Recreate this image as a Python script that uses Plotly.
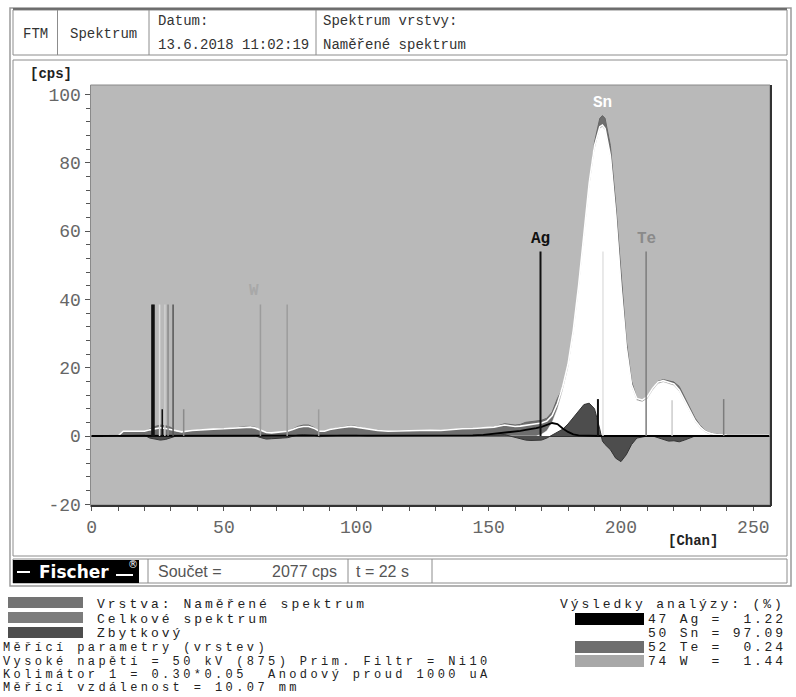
import json
import plotly.graph_objects as go

# ---------------- data ----------------
chan = [0, 10, 12, 16, 20, 22, 24, 26, 28, 30,
        32, 34, 38, 42, 46, 50, 54, 58, 60, 62,
        64, 66, 68, 70, 72, 74, 76, 78, 80, 82,
        84, 86, 88, 90, 94, 98, 100, 104, 108, 112,
        116, 120, 124, 128, 132, 136, 140, 144, 148, 152,
        156, 160, 162, 164, 166, 168, 170, 172, 174, 176,
        178, 180, 182, 184, 186, 188, 190, 192, 193, 194,
        196, 198, 200, 202, 204, 206, 208, 210, 212, 214,
        216, 218, 220, 222, 224, 226, 228, 230, 232, 234,
        236, 240, 250, 256]

measured = [0, 0, 1.2, 1.3, 1.2, 2.0, 2.8, 3.2, 3.0, 2.5,
            1.2, 1.0, 1.5, 1.8, 1.8, 2.0, 2.3, 2.8, 2.8, 2.5,
            1.5, 0.8, 0.8, 1.0, 1.0, 1.2, 2.0, 2.8, 3.2, 3.2,
            2.5, 1.2, 1.2, 1.8, 2.5, 3.0, 2.8, 2.0, 1.5, 1.3,
            1.5, 1.4, 1.6, 1.6, 1.5, 1.8, 2.0, 2.0, 2.2, 2.6,
            3.6, 3.2, 3.4, 4.0, 4.2, 4.4, 4.6, 5.2, 7.0, 11.0,
            14, 20, 29, 42, 57, 73, 86, 93, 93.8, 93,
            85, 68, 47, 28, 16, 11, 10.2, 11, 14, 16,
            16.5, 16.2, 15.8, 14.5, 11.5, 8.5, 5.2, 3, 1.5, 0.8,
            0.5, 0.3, 0.2, 0.2]

total_fit = [0, 0, 1.4, 1.5, 1.4, 1.8, 2.2, 2.4, 2.2, 1.9,
             1.4, 1.2, 1.6, 1.9, 2.0, 2.1, 2.3, 2.6, 2.6, 2.3,
             1.6, 1.0, 0.9, 1.1, 1.2, 1.4, 1.9, 2.5, 2.8, 2.8,
             2.3, 1.4, 1.4, 1.9, 2.4, 2.8, 2.6, 2.0, 1.6, 1.4,
             1.5, 1.5, 1.6, 1.7, 1.6, 1.9, 2.1, 2.2, 2.3, 2.6,
             3.2, 2.8, 2.9, 3.2, 3.4, 3.6, 3.8, 4.4, 6.0, 9.5,
             14.5, 21, 31, 44, 59, 74, 85, 90.5, 91, 90,
             82, 65, 44, 26, 15, 11, 10.5, 11.5, 14, 15.8,
             16.2, 15.8, 15.2, 13.5, 10.5, 7.5, 4.5, 2.6, 1.3, 0.7,
             0.4, 0.3, 0.2, 0.2]

sn_component = [0, 0, 0, 0, 0, 0, 0, 0, 0, 0,
                0, 0, 0, 0, 0, 0, 0, 0, 0, 0,
                0, 0, 0, 0, 0, 0, 0, 0, 0, 0,
                0, 0, 0, 0, 0, 0, 0, 0, 0, 0,
                0, 0, 0, 0, 0, 0, 0, 0, 0, 0,
                0, 0, 0, 0, 0, 0, 0.5, 1.5, 4.0, 8.0,
                13.5, 20, 30, 43, 58, 73, 84, 90, 90.5, 89.5,
                81.5, 64.5, 43.5, 25.5, 14.5, 10.5, 10, 11, 13.5, 15.3,
                15.8, 15.4, 14.8, 13, 10, 7, 4.2, 2.3, 1.0, 0.4,
                0.2, 0, 0, 0]

residual = [0, 0, 0.2, 0.2, 0.2, -0.6, -1.0, -1.2, -1.0, -0.6,
            0, 0, 0, 0, 0, 0, 0, 0.2, 0.2, 0,
            -0.5, -0.9, -0.8, -0.8, -0.6, -0.5, 0, 0.3, 0.4, 0.4,
            0.2, -0.2, -0.2, 0, 0.2, 0.3, 0.2, 0, 0, 0,
            0, 0, 0, 0, 0, 0, 0, 0, 0, 0.2,
            0.4, -0.5, -0.8, -1.2, -1.3, -1.3, -1.2, -0.6, 0.3, 1.0,
            2.0, 3.5, 5.5, 7.5, 9.2, 9.6, 8.0, 2.0, -1.5, -2.5,
            -4.0, -6.5, -7.5, -5.5, -2.5, -0.6, -0.2, 0, 0, -0.5,
            -1.2, -1.5, -1.4, -1.7, -1.2, -0.5, 0, 0, 0, 0,
            0, 0, 0, 0]

ag_component = [0, 0, 0, 0, 0, 0, 0, 0, 0, 0,
                0, 0, 0, 0, 0, 0, 0, 0, 0, 0,
                0, 0, 0, 0, 0, 0, 0, 0, 0, 0,
                0, 0, 0, 0, 0, 0, 0, 0, 0, 0,
                0, 0, 0, 0, 0, 0, 0.1, 0.2, 0.3, 0.6,
                0.9, 1.3, 1.5, 1.8, 2.0, 2.3, 2.7, 3.2, 3.8, 3.5,
                2.2, 1.2, 0.5, 0.2, 0.1, 0, 0, 0, 0, 0,
                0, 0, 0, 0, 0, 0, 0, 0, 0, 0,
                0, 0, 0, 0, 0, 0, 0, 0, 0, 0,
                0, 0, 0, 0]

# element line markers (channel, height in cps)
line_chan = [22.9, 23.5, 25.7, 26.7, 27.7, 28.9, 30.8, 34.8, 63.8, 73.9,
             85.8, 169.6, 191.3, 193.2, 209.5, 219.3, 238.8]
line_cps = [38.5, 38.5, 38.5, 7.8, 38.5, 38.5, 38.5, 7.8, 38.5, 38.5,
            7.8, 54.0, 10.8, 54.0, 54.0, 10.5, 10.8]

peak_labels = ["Ag", "Sn", "Te", "W"]
peak_label_chan = [169.6, 193.2, 209.5, 61.3]
peak_label_cps = [57.6, 97.6, 57.6, 42.4]

x_ticks = [0, 50, 100, 150, 200, 250]
y_ticks = [-20, 0, 20, 40, 60, 80, 100]

legend_items = ["Vrstva: Naměřené spektrum", "Celkové spektrum", "Zbytkový"]
param_lines = ["Měřící parametry (vrstev)",
               "Vysoké napětí = 50 kV (875) Prim. Filtr = Ni10",
               "Kolimátor 1 = 0.30*0.05  Anodový proud 1000 uA",
               "Měřící vzdálenost = 10.07 mm"]
result_elements = ["47 Ag", "50 Sn", "52 Te", "74 W "]
result_values = ["1.22", "97.09", "0.24", "1.44"]

# ---------------- styles ----------------
W, H = 796, 697
def px(x):
    return x / W
def py(y):
    return 1 - y / H

MONO = "Liberation Mono, Courier New, monospace"
SANS = "Liberation Sans, Arial, sans-serif"
line_colors = ["#111111", "#111111", "#dcdcdc", "#111111", "#d0d0d0", "#8a8a8a",
               "#555555", "#8a8a8a", "#9c9c9c", "#9c9c9c", "#9c9c9c", "#111111",
               "#111111", "#e2e2e2", "#7c7c7c", "#cccccc", "#7c7c7c"]
line_widths = [2, 2, 1.5, 1.5, 1.5, 1.5, 1.5, 1.5, 1.5, 1.5, 1.5, 2, 2, 1.5, 1.5, 1.5, 1.5]
peak_label_colors = ["#111111", "#ffffff", "#8a8a8a", "#a8a8a8"]
legend_colors = ["#737373", "#7c7c7c", "#4d4d4d"]
result_colors = ["#000000", "#ffffff", "#6e6e6e", "#a8a8a8"]

fig = go.Figure()

fig.add_trace(go.Scatter(x=chan, y=measured, mode="lines", fill="tozeroy",
                         fillcolor="#6e6e6e", line=dict(color="#666666", width=1),
                         hoverinfo="skip", showlegend=False))
fig.add_trace(go.Scatter(x=chan, y=sn_component, mode="lines", fill="tozeroy",
                         fillcolor="#ffffff", line=dict(color="#ffffff", width=0.5),
                         hoverinfo="skip", showlegend=False))
fig.add_trace(go.Scatter(x=chan, y=total_fit, mode="lines",
                         line=dict(color="#ffffff", width=1.6),
                         hoverinfo="skip", showlegend=False))
fig.add_trace(go.Scatter(x=chan, y=residual, mode="lines", fill="tozeroy",
                         fillcolor="#4d4d4d", line=dict(color="#333333", width=1),
                         hoverinfo="skip", showlegend=False))
fig.add_trace(go.Scatter(x=chan, y=ag_component, mode="lines",
                         line=dict(color="#000000", width=1.8),
                         hoverinfo="skip", showlegend=False))

for c, h, col, lw in zip(line_chan, line_cps, line_colors, line_widths):
    fig.add_trace(go.Scatter(x=[c, c], y=[0, h], mode="lines",
                             line=dict(color=col, width=lw),
                             hoverinfo="skip", showlegend=False))

annotations = []
spaced = {}
for lab, c, v, col in zip(peak_labels, peak_label_chan, peak_label_cps, peak_label_colors):
    annotations.append(dict(x=c, y=v, xref="x", yref="y", text="<b>%s</b>" % lab,
                            showarrow=False, font=dict(family=MONO, size=16, color=col)))

def ptext(x, y, text, size=14, color="#333333", family=MONO, anchor="left", bold=False,
          spacing=None):
    t = "<b>%s</b>" % text if bold else text
    if spacing is not None:
        spaced[len(annotations)] = spacing
    annotations.append(dict(x=px(x), y=py(y), xref="paper", yref="paper", text=t,
                            showarrow=False, xanchor=anchor, yanchor="middle",
                            align=anchor if anchor != "center" else "center",
                            font=dict(family=family, size=size, color=color)))

# header texts
ptext(35, 34, "FTM", anchor="center")
ptext(103, 34, "Spektrum", anchor="center")
ptext(156, 21, "Datum:")
ptext(156, 45, "13.6.2018 11:02:19")
ptext(321, 21, "Spektrum vrstvy:")
ptext(321, 45, "Naměřené spektrum")

# axis unit labels
ptext(51, 74, "[cps]", size=14, color="#222222", anchor="center", bold=True)
ptext(693, 541, "[Chan]", size=14, color="#222222", anchor="center", bold=True)

# bottom status row
ptext(156, 571, "Součet =", size=16, color="#555555", family=SANS)
ptext(339, 571, "2077 cps", size=16, color="#555555", family=SANS, anchor="right")
ptext(354, 571, "t = 22 s", size=16, color="#555555", family=SANS)
ptext(74, 572, "<b>Fischer</b>", size=17, color="#ffffff", family="DejaVu Sans", anchor="center")
ptext(133, 564, "®", size=10, color="#ffffff", family="DejaVu Sans", anchor="center")

# legend block
leg_y = [604, 619, 633]
for txt, yy in zip(legend_items, leg_y):
    ptext(95, yy, txt, size=13, color="#222222", spacing=3)
par_y = [648, 662, 675, 688]
for txt, yy in zip(param_lines, par_y):
    ptext(1, yy, txt, size=12, color="#222222", spacing=3.4)

# results
ptext(558, 604, "Výsledky analýzy: (%)", size=13, color="#222222", spacing=2.9)
res_y = [619, 633, 647, 661]
for el, val, yy in zip(result_elements, result_values, res_y):
    ptext(646, yy, "%s = %5s" % (el, val), size=13, color="#222222", spacing=2.8)

shapes = []
def rect(x0, y0, x1, y1, color="#8c8c8c", width=1, fill=None, layer="above"):
    d = dict(type="rect", xref="paper", yref="paper", x0=px(x0), x1=px(x1),
             y0=py(y1), y1=py(y0), line=dict(color=color, width=width), layer=layer)
    if fill:
        d["fillcolor"] = fill
    shapes.append(d)
def hline(x0, x1, y, color="#8c8c8c", width=1):
    shapes.append(dict(type="line", xref="paper", yref="paper", x0=px(x0), x1=px(x1),
                       y0=py(y), y1=py(y), line=dict(color=color, width=width)))
def vline(x, y0, y1, color="#8c8c8c", width=1):
    shapes.append(dict(type="line", xref="paper", yref="paper", x0=px(x), x1=px(x),
                       y0=py(y0), y1=py(y1), line=dict(color=color, width=width)))

# outer frame and cells
rect(10, 8, 791, 586, color="#9a9a9a", width=1.5)
rect(13, 10, 787, 55, color="#8c8c8c", width=1)
hline(13, 787, 9, color="#555555", width=1.5)
vline(57.5, 10, 55)
vline(149, 10, 55)
vline(316, 10, 55)
rect(13, 60, 787, 556, color="#8c8c8c", width=1)
rect(13, 559, 787, 583, color="#8c8c8c", width=1)
rect(13, 560, 139, 583, color="#000000", width=0, fill="#000000")
vline(148, 559, 583)
vline(348, 559, 583)
vline(432, 559, 583)
# logo strokes
hline(17, 30, 572, color="#ffffff", width=2)
hline(116, 133, 575, color="#ffffff", width=2)

# plot area border
rect(90.5, 85, 770, 505, color="#8a8a8a", width=1)
vline(771, 85, 506, color="#333333", width=2)
hline(90.5, 771, 506, color="#333333", width=2)

# legend swatches
sw_y = [(597, 608), (612, 623), (627, 638)]
for col, (a, b) in zip(legend_colors, sw_y):
    rect(8, a, 83, b, color=col, width=0, fill=col)
rs_y = [(613, 625), (627, 639), (641, 653), (655, 667)]
for col, (a, b) in zip(result_colors, rs_y):
    rect(575, a, 644, b, color=col, width=0, fill=col)

fig.update_layout(
    width=W, height=H, autosize=False,
    margin=dict(l=0, r=0, t=0, b=0),
    paper_bgcolor="#ffffff", plot_bgcolor="#b9b9b9",
    annotations=annotations, shapes=shapes,
    xaxis=dict(domain=[px(90.5), px(770)], range=[-0.4, 256.3],
               tickmode="array", tickvals=x_ticks, ticktext=[str(v) for v in x_ticks],
               ticks="outside", ticklen=5, tickcolor="#555555", tickwidth=1,
               minor=dict(tickmode="linear", tick0=0, dtick=10, ticks="outside",
                          ticklen=5, tickcolor="#555555"),
               showgrid=False, zeroline=False, showline=False, automargin=False,
               tickfont=dict(family=MONO, size=18, color="#666666")),
    yaxis=dict(domain=[py(505), py(85)], range=[-20.2, 102.75],
               tickmode="array", tickvals=y_ticks, ticktext=[str(v) for v in y_ticks],
               ticks="outside", ticklen=5, tickcolor="#555555", tickwidth=1,
               minor=dict(tickmode="linear", tick0=0, dtick=4, ticks="outside",
                          ticklen=4, tickcolor="#555555"),
               showgrid=False, zeroline=True, zerolinecolor="#333333", zerolinewidth=1,
               showline=False, automargin=False,
               tickfont=dict(family=MONO, size=18, color="#666666")),
)

post = """
document.body.style.margin='0';document.body.style.padding='0';
var gd = document.getElementById('{plot_id}');
var sp = %s;
gd.querySelectorAll('g.annotation').forEach(function(g){
  var i = g.getAttribute('data-index');
  if (sp.hasOwnProperty(i)) {
    g.querySelectorAll('text').forEach(function(t){ t.style.letterSpacing = sp[i] + 'px'; });
  }
});
""" % json.dumps({str(k): v for k, v in spaced.items()})

fig.write_html("out.html", config={"displayModeBar": False}, post_script=post)
